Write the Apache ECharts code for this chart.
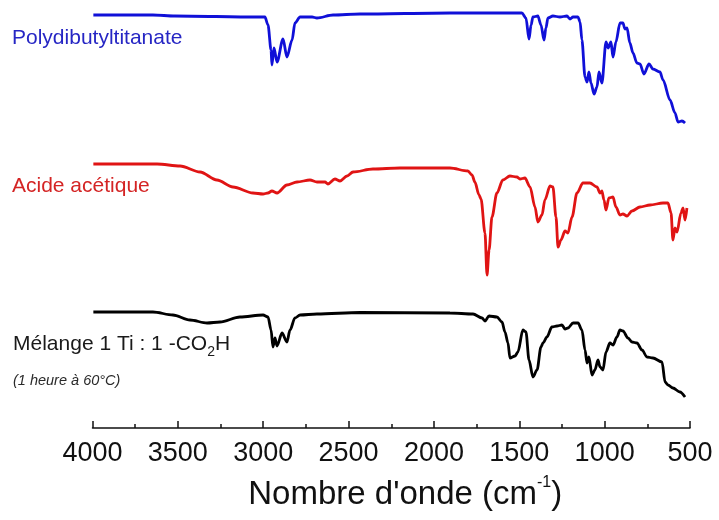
<!DOCTYPE html>
<html>
<head>
<meta charset="utf-8">
<script src="https://cdn.jsdelivr.net/npm/echarts@6/dist/echarts.min.js"></script>
<style>
  html, body { margin: 0; padding: 0; background: #fff; }
  #chart { width: 719px; height: 520px; }
</style>
</head>
<body>
<div id="chart"></div>
<script>
// Wavenumber tick labels (cm-1)
const xTicks = [4000, 3500, 3000, 2500, 2000, 1500, 1000, 500];

// Polydibutyltitanate (offset transmittance, a.u.)
const wnTitanate = [3995, 3880, 3646, 3517, 3036, 2990, 2972, 2954, 2949, 2937, 2919, 2884, 2861, 2831, 2814, 2784, 2714, 2685, 2591, 2433, 1906, 1485, 1461, 1443, 1431, 1420, 1391, 1373, 1355, 1344, 1332, 1303, 1262, 1221, 1203, 1185, 1156, 1144, 1133, 1115, 1103, 1092, 1080, 1062, 1045, 1033, 1016, 992, 980, 963, 951, 934, 910, 893, 881, 869, 852, 834, 811, 793, 770, 740, 717, 676, 658, 617, 588, 570, 547, 529];
const tTitanate = [41.3, 41.3, 41.3, 41.2, 41.1, 41.1, 40.3, 37.8, 36.3, 38.0, 36.6, 38.9, 37.1, 38.8, 40.5, 41.1, 41.1, 41.0, 41.3, 41.4, 41.5, 41.5, 41.0, 38.9, 40.3, 41.1, 41.2, 40.3, 38.8, 40.0, 41.0, 41.2, 41.1, 41.2, 40.9, 41.1, 41.1, 40.6, 38.8, 35.1, 34.6, 35.6, 34.5, 33.4, 34.1, 35.6, 34.5, 38.6, 38.0, 38.6, 37.1, 38.6, 40.5, 40.5, 39.9, 40.0, 38.5, 37.5, 36.5, 36.4, 35.4, 36.4, 35.9, 35.6, 34.8, 32.8, 31.5, 30.6, 30.7, 30.5];

// Acide acétique
const wnAcetic = [3995, 3622, 3487, 3370, 3271, 3177, 3060, 3001, 2972, 2949, 2919, 2861, 2802, 2726, 2685, 2638, 2621, 2580, 2550, 2509, 2474, 2357, 2199, 1906, 1801, 1777, 1760, 1736, 1724, 1701, 1689, 1677, 1660, 1631, 1596, 1555, 1514, 1496, 1467, 1437, 1408, 1391, 1367, 1350, 1320, 1303, 1285, 1273, 1256, 1232, 1215, 1191, 1162, 1127, 1086, 1045, 1027, 1016, 1004, 992, 975, 951, 934, 910, 893, 869, 840, 793, 734, 658, 629, 611, 600, 588, 576, 553, 541, 529, 518];
const tAcetic = [26.4, 26.4, 26.2, 25.6, 24.8, 24.1, 23.5, 23.4, 23.5, 23.7, 23.5, 24.3, 24.6, 24.8, 24.6, 24.6, 24.4, 24.9, 24.7, 25.2, 25.6, 25.9, 26.0, 26.0, 25.7, 25.3, 24.6, 23.3, 22.9, 19.5, 15.3, 17.8, 21.1, 23.5, 24.8, 25.2, 25.1, 24.9, 25.0, 24.1, 22.1, 20.6, 21.3, 22.8, 24.2, 24.1, 21.1, 18.1, 18.8, 19.7, 19.5, 21.1, 23.5, 24.5, 24.5, 24.1, 23.5, 23.7, 22.8, 21.8, 23.0, 23.1, 22.1, 21.3, 21.4, 21.2, 21.7, 22.1, 22.3, 22.5, 22.5, 21.5, 18.8, 20.0, 19.6, 21.5, 22.0, 20.8, 22.0];

// Mélange 1 Ti : 1 -CO2H
const wnMix = [3995, 3646, 3529, 3429, 3329, 3253, 3136, 3001, 2972, 2954, 2943, 2931, 2919, 2890, 2861, 2843, 2814, 2784, 2685, 2433, 1906, 1771, 1718, 1701, 1677, 1631, 1601, 1584, 1566, 1555, 1525, 1508, 1479, 1461, 1443, 1420, 1396, 1373, 1361, 1338, 1309, 1279, 1250, 1232, 1215, 1185, 1156, 1133, 1115, 1103, 1092, 1074, 1057, 1039, 1027, 1010, 992, 969, 951, 928, 910, 893, 863, 840, 811, 781, 752, 717, 664, 646, 629, 600, 559, 529];
const tMix = [11.6, 11.6, 11.3, 10.8, 10.5, 10.6, 11.1, 11.3, 11.1, 9.8, 8.1, 9.0, 8.2, 9.5, 8.6, 9.8, 11.0, 11.3, 11.4, 11.55, 11.5, 11.4, 11.0, 10.7, 11.2, 11.1, 10.6, 9.6, 8.5, 7.0, 7.2, 7.6, 9.8, 9.6, 6.8, 5.1, 5.8, 8.1, 8.5, 9.1, 10.1, 10.2, 10.3, 9.9, 10.0, 10.5, 10.5, 9.8, 7.8, 6.5, 7.1, 5.3, 5.8, 6.8, 6.1, 5.8, 7.6, 8.5, 8.3, 9.1, 9.8, 9.7, 9.0, 8.6, 8.5, 7.8, 7.1, 7.0, 6.6, 4.6, 4.3, 4.0, 3.6, 3.1];

const seriesNames = ['Polydibutyltitanate', 'Acide acétique', 'Mélange 1 Ti : 1 -CO2H'];
const subNote = '(1 heure à 60°C)';

function pairs(xs, ys) { return xs.map((x, i) => [x, ys[i]]); }

const FONT = '"Liberation Sans", Arial, sans-serif';
const chart = echarts.init(document.getElementById('chart'), null, { renderer: 'canvas' });

chart.setOption({
  animation: false,
  backgroundColor: '#ffffff',
  grid: { left: 92.5, right: 29, top: 0, bottom: 92, containLabel: false },
  xAxis: {
    type: 'value',
    inverse: true,
    min: 500,
    max: 4000,
    interval: 500,
    axisLine: { show: true, lineStyle: { color: '#111', width: 1.5 } },
    axisTick: { show: true, inside: true, length: 7, lineStyle: { color: '#111', width: 1.5 } },
    minorTick: { show: true, splitNumber: 2, length: 4, lineStyle: { color: '#111', width: 1.5 } },
    splitLine: { show: false },
    axisLabel: {
      margin: 12,
      fontSize: 27,
      fontFamily: FONT,
      color: '#111',
      formatter: v => (xTicks.indexOf(v) >= 0 ? String(v) : '')
    },
    name: "Nombre d'onde (cm{sup|-1})",
    nameLocation: 'middle',
    nameGap: 47,
    nameTextStyle: {
      fontSize: 33,
      fontFamily: FONT,
      color: '#111',
      lineHeight: 40,
      padding: [0, 0, 0, 28],
      rich: {
        sup: { fontSize: 16, fontFamily: FONT, color: '#111', verticalAlign: 'top', lineHeight: 16 }
      }
    }
  },
  yAxis: {
    type: 'value',
    min: 0,
    max: 42.8,
    show: false
  },
  series: [
    {
      name: seriesNames[0], type: 'line', data: pairs(wnTitanate, tTitanate),
      showSymbol: false, smooth: 0.3, smoothMonotone: 'x',
      lineStyle: { color: '#1010d8', width: 2.8 }
    },
    {
      name: seriesNames[1], type: 'line', data: pairs(wnAcetic, tAcetic),
      showSymbol: false, smooth: 0.3, smoothMonotone: 'x',
      lineStyle: { color: '#e01414', width: 2.8 }
    },
    {
      name: seriesNames[2], type: 'line', data: pairs(wnMix, tMix),
      showSymbol: false, smooth: 0.3, smoothMonotone: 'x',
      lineStyle: { color: '#000000', width: 2.8 }
    }
  ],
  graphic: [
    {
      type: 'text', left: 12, top: 28,
      style: { text: seriesNames[0], fontSize: 21, fontFamily: FONT, fill: '#2626c4' }
    },
    {
      type: 'text', left: 12, top: 176,
      style: { text: seriesNames[1], fontSize: 21, fontFamily: FONT, fill: '#d42424' }
    },
    {
      type: 'text', left: 13, top: 329,
      style: {
        text: 'Mélange 1 Ti : 1 -CO{sub|2}H',
        fontSize: 21, fontFamily: FONT, fill: '#1a1a1a', lineHeight: 30,
        rich: {
          sub: { fontSize: 14, fontFamily: FONT, fill: '#1a1a1a', verticalAlign: 'bottom', lineHeight: 14 }
        }
      }
    },
    {
      type: 'text', left: 13, top: 373,
      style: { text: subNote, fontSize: 14.5, fontStyle: 'italic', fontFamily: FONT, fill: '#2a2a2a' }
    }
  ]
});
</script>
</body>
</html>
